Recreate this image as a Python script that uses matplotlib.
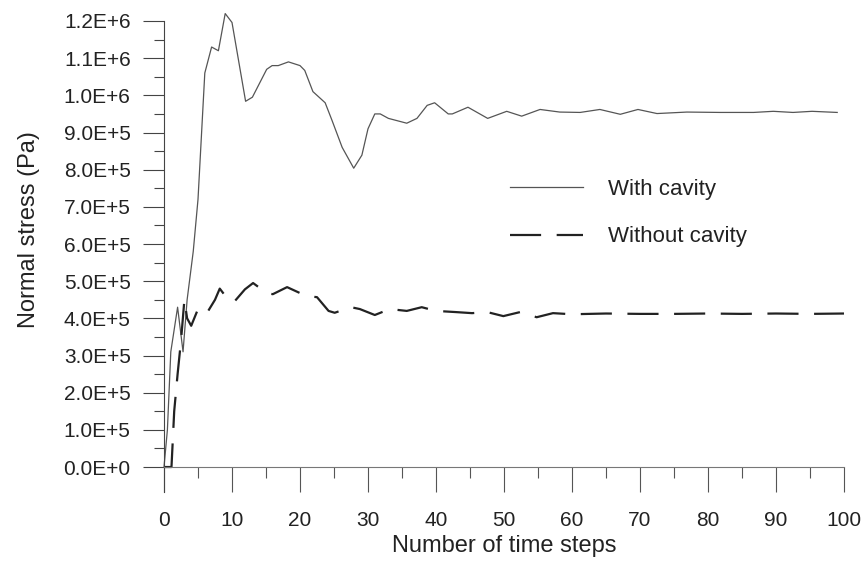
import matplotlib
matplotlib.use("Agg")
import matplotlib.pyplot as plt
from matplotlib.ticker import MultipleLocator, FixedLocator, FuncFormatter

plt.rcParams['font.family'] = ['Liberation Sans', 'DejaVu Sans']

# data (stress in Pa)
with_x = [0, 0.5, 1.0, 2.0, 2.8, 3.4, 4.3, 5.0, 6.0, 7.0, 8.0, 9.0, 10.0, 12.0, 13.0,
          15.1, 15.9, 16.8, 18.3, 20.0, 20.7, 21.9, 23.7, 24.7, 26.2, 27.9, 29.1, 30.0,
          31.0, 31.8, 33.0, 35.7, 37.2, 38.7, 39.8, 41.8, 42.4, 44.7, 47.6, 50.4, 52.6,
          55.3, 58.2, 61.2, 64.1, 67.1, 69.7, 72.5, 76.9, 81.8, 86.7, 89.6, 92.5, 95.3, 99.0]
with_y = [0, 1.0e5, 3.1e5, 4.3e5, 3.1e5, 4.5e5, 5.8e5, 7.2e5, 10.6e5, 11.3e5, 11.2e5, 12.2e5,
          11.96e5, 9.84e5, 9.95e5, 10.7e5, 10.8e5, 10.8e5, 10.9e5, 10.8e5, 10.67e5, 10.1e5,
          9.8e5, 9.33e5, 8.6e5, 8.04e5, 8.39e5, 9.1e5, 9.5e5, 9.5e5, 9.38e5, 9.25e5, 9.38e5,
          9.73e5, 9.8e5, 9.5e5, 9.5e5, 9.68e5, 9.38e5, 9.57e5, 9.44e5, 9.62e5, 9.55e5,
          9.54e5, 9.62e5, 9.49e5, 9.62e5, 9.51e5, 9.55e5, 9.54e5, 9.54e5, 9.57e5, 9.54e5,
          9.57e5, 9.54e5]

without_x = [0, 1.1, 1.5, 2.0, 2.5, 3.0, 3.4, 4.0, 5.0, 6.3, 7.5, 8.2, 9.2, 10.3, 11.9, 13.1,
             15.1, 16.0, 18.1, 20.0, 21.0, 22.5, 24.2, 25.1, 27.5, 28.8, 31.0, 33.2, 35.7,
             37.9, 40.0, 42.8, 45.3, 47.5, 49.9, 52.4, 54.8, 57.2, 60, 65, 70, 75, 80, 85,
             90, 95, 100]
without_y = [0, 0, 1.5e5, 2.5e5, 3.4e5, 4.5e5, 4.0e5, 3.8e5, 4.25e5, 4.14e5, 4.5e5, 4.8e5,
             4.56e5, 4.44e5, 4.78e5, 4.95e5, 4.68e5, 4.65e5, 4.84e5, 4.68e5, 4.6e5, 4.57e5,
             4.2e5, 4.15e5, 4.3e5, 4.25e5, 4.09e5, 4.25e5, 4.2e5, 4.3e5, 4.2e5, 4.17e5,
             4.14e5, 4.17e5, 4.06e5, 4.17e5, 4.03e5, 4.14e5, 4.11e5, 4.13e5, 4.12e5, 4.12e5,
             4.13e5, 4.12e5, 4.13e5, 4.12e5, 4.13e5]


def sci_label(v, pos):
    if abs(v) < 1:
        return "0.0E+0"
    exp = 0
    m = v
    while abs(m) >= 10:
        m /= 10.0
        exp += 1
    return "%.1fE+%d" % (m, exp)


fig = plt.figure(figsize=(8.66, 5.61), dpi=100)
ax = fig.add_axes([164 / 866, 1 - 492 / 561, 680 / 866, 471 / 561])

ax.plot(with_x, with_y, color='#555555', lw=0.9, label='With cavity', clip_on=False)
ax.plot(without_x, without_y, color='#222222', lw=1.6, dashes=(14, 7),
        label='Without cavity', clip_on=False)

ax.set_xlim(0, 100)
ax.set_ylim(-0.672e5, 1.2e6)

for s in ['top', 'right']:
    ax.spines[s].set_visible(False)
ax.spines['bottom'].set_position(('data', 0))
ax.spines['bottom'].set_color('#777777')
ax.spines['left'].set_color('#444444')

ax.xaxis.set_major_locator(MultipleLocator(10))
ax.xaxis.set_minor_locator(MultipleLocator(5))
ax.yaxis.set_major_locator(FixedLocator([i * 1e5 for i in range(13)]))
ax.yaxis.set_minor_locator(FixedLocator([i * 1e5 + 0.5e5 for i in range(12)]))
ax.yaxis.set_major_formatter(FuncFormatter(sci_label))

ax.tick_params(axis='x', which='major', length=18, width=0.8, pad=14,
               labelsize=15, colors='#555555', labelcolor='#222222')
ax.tick_params(axis='x', which='minor', length=8, width=0.8, colors='#555555')
ax.tick_params(axis='y', which='major', length=15, width=0.8, pad=9,
               labelsize=15, colors='#444444', labelcolor='#222222')
ax.tick_params(axis='y', which='minor', length=7.5, width=0.8, colors='#444444')

ax.set_xlabel('Number of time steps', fontsize=17, color='#222222')
ax.xaxis.label.set_va('baseline')
ax.xaxis.set_label_coords(0.5, (492 - 552) / 471)
ax.set_ylabel('Normal stress (Pa)', fontsize=17, color='#222222')
ax.yaxis.label.set_va('center')
ax.yaxis.label.set_ha('center')
ax.yaxis.set_label_coords((29 - 164) / 680, (492 - 230) / 471)

ax.legend(loc='center left', bbox_to_anchor=(510 / 866, 1 - 213 / 561),
          bbox_transform=fig.transFigure, frameon=False, fontsize=16,
          handlelength=3.3, handletextpad=1.1, labelspacing=1.2,
          borderpad=0, borderaxespad=0, labelcolor='#222222')

fig.savefig('out.png', dpi=100)
